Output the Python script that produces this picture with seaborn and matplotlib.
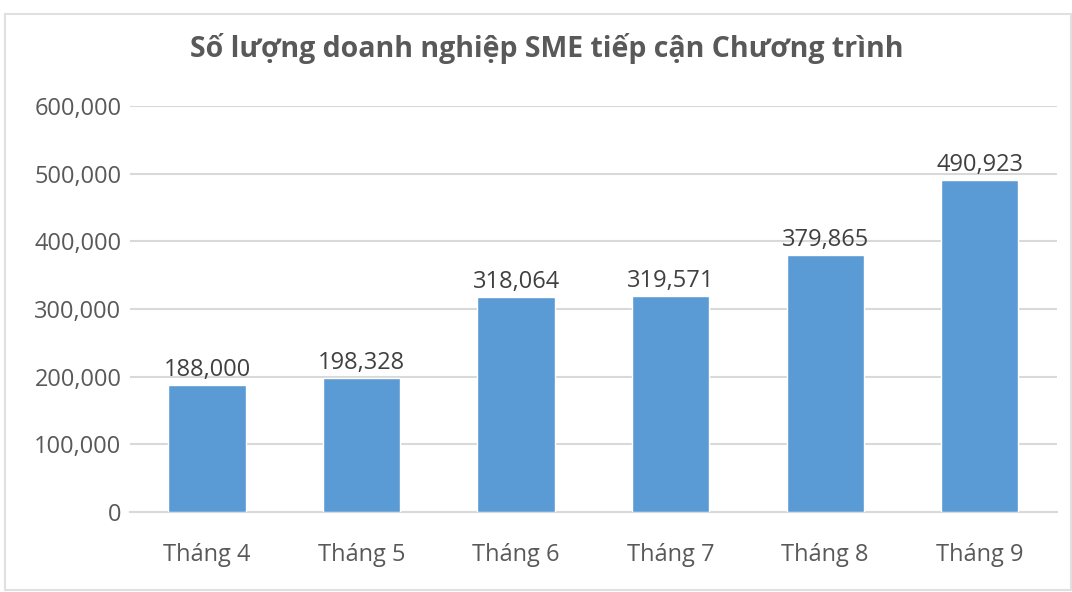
import matplotlib
matplotlib.use("Agg")
import matplotlib.pyplot as plt
import seaborn as sns
import pandas as pd
from matplotlib.ticker import FuncFormatter, MultipleLocator
from matplotlib.patches import Rectangle

months = ["Tháng 4", "Tháng 5", "Tháng 6", "Tháng 7", "Tháng 8", "Tháng 9"]
values = [188000, 198328, 318064, 319571, 379865, 490923]
title = "Số lượng doanh nghiệp SME tiếp cận Chương trình"

sns.set_theme(style="white")
plt.rcParams['font.family'] = ['Open Sans', 'DejaVu Sans']

df = pd.DataFrame({"month": months, "value": values})

fig = plt.figure(figsize=(10.72, 5.92), dpi=100)
ax = fig.add_axes([0.121, 0.135, 0.865, 0.686])
sns.barplot(data=df, x="month", y="value", color="#5B9BD5", width=0.5, ax=ax, zorder=3, saturation=1)

ax.set_xlim(-0.5, 5.5)
ax.set_ylim(0, 600000)
ax.yaxis.set_major_locator(MultipleLocator(100000))
ax.yaxis.set_major_formatter(FuncFormatter(lambda v, p: f"{int(v):,}"))
ax.grid(axis="y", color="#D9D9D9", linewidth=1.5, zorder=0)
ax.set_xlabel("")
ax.set_ylabel("")
for s in ["top", "right", "left"]:
    ax.spines[s].set_visible(False)
ax.spines["bottom"].set_color("#D9D9D9")
ax.spines["bottom"].set_linewidth(1.5)
ax.tick_params(axis="both", colors="#595959", labelsize=17, length=0)
ax.tick_params(axis="y", pad=6)
ax.tick_params(axis="x", pad=22)

for i, v in enumerate(values):
    ax.text(i, v + 4000, f"{v:,}", ha="center", va="bottom", fontsize=17, color="#404040", zorder=4)

fig.text(0.51, 0.918, title, ha="center", va="center", fontsize=20.5, fontweight="bold", color="#595959")

fig.patches.append(Rectangle((0.005, 0.003), 0.994, 0.974, transform=fig.transFigure,
                             fill=False, edgecolor="#E0E0E0", linewidth=1.5))

fig.savefig("out.png", dpi=100)
